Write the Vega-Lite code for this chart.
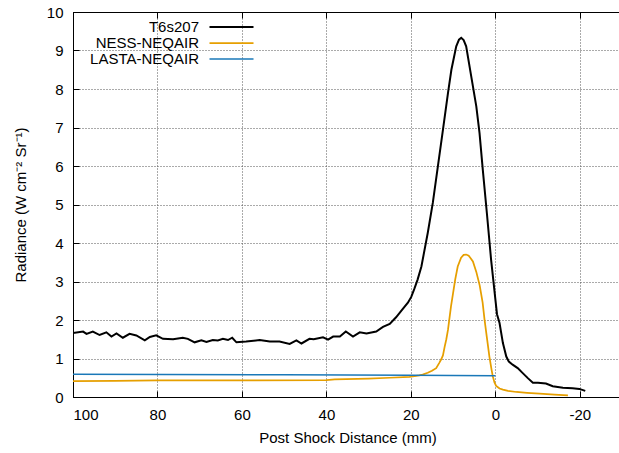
{
  "$schema": "https://vega.github.io/schema/vega-lite/v6.json",
  "width": 549,
  "height": 385,
  "autosize": {"type": "none"},
  "padding": {"left": 73, "top": 12, "right": 0, "bottom": 56},
  "background": "white",
  "config": {
    "font": "Liberation Sans",
    "view": {"stroke": "black", "strokeWidth": 1},
    "axis": {
      "labelFontSize": 15,
      "labelColor": "black",
      "titleFontSize": 15,
      "titleFontWeight": "normal",
      "titleColor": "black",
      "domainColor": "black",
      "tickColor": "black",
      "gridColor": "#555555",
      "gridDash": [1, 2],
      "gridWidth": 1,
      "gridOpacity": 1,
      "tickSize": -6,
      "labelOverlap": false,
      "labelFont": "Liberation Sans",
      "titleFont": "Liberation Sans"
    },
    "legend": {"labelFont": "Liberation Sans"}
  },
  "datasets": {
    "curves": [
      {"series": "T6s207", "d": 100, "r": 1.66},
      {"series": "T6s207", "d": 97.6, "r": 1.70},
      {"series": "T6s207", "d": 96.8, "r": 1.64},
      {"series": "T6s207", "d": 95.3, "r": 1.70},
      {"series": "T6s207", "d": 93.7, "r": 1.61},
      {"series": "T6s207", "d": 92.1, "r": 1.68},
      {"series": "T6s207", "d": 90.9, "r": 1.57},
      {"series": "T6s207", "d": 89.7, "r": 1.65},
      {"series": "T6s207", "d": 88.2, "r": 1.54},
      {"series": "T6s207", "d": 86.6, "r": 1.64},
      {"series": "T6s207", "d": 85.0, "r": 1.60},
      {"series": "T6s207", "d": 83.0, "r": 1.47},
      {"series": "T6s207", "d": 81.8, "r": 1.56},
      {"series": "T6s207", "d": 80.3, "r": 1.60},
      {"series": "T6s207", "d": 78.7, "r": 1.51},
      {"series": "T6s207", "d": 76.3, "r": 1.50},
      {"series": "T6s207", "d": 74.0, "r": 1.54},
      {"series": "T6s207", "d": 72.8, "r": 1.51},
      {"series": "T6s207", "d": 71.2, "r": 1.42},
      {"series": "T6s207", "d": 69.6, "r": 1.47},
      {"series": "T6s207", "d": 68.4, "r": 1.43},
      {"series": "T6s207", "d": 66.9, "r": 1.48},
      {"series": "T6s207", "d": 65.7, "r": 1.47},
      {"series": "T6s207", "d": 64.5, "r": 1.51},
      {"series": "T6s207", "d": 63.3, "r": 1.48},
      {"series": "T6s207", "d": 62.3, "r": 1.54},
      {"series": "T6s207", "d": 61.3, "r": 1.42},
      {"series": "T6s207", "d": 59.0, "r": 1.44},
      {"series": "T6s207", "d": 55.8, "r": 1.48},
      {"series": "T6s207", "d": 53.4, "r": 1.44},
      {"series": "T6s207", "d": 51.1, "r": 1.44},
      {"series": "T6s207", "d": 48.7, "r": 1.38},
      {"series": "T6s207", "d": 47.1, "r": 1.47},
      {"series": "T6s207", "d": 45.9, "r": 1.39},
      {"series": "T6s207", "d": 44.0, "r": 1.51},
      {"series": "T6s207", "d": 43.0, "r": 1.50},
      {"series": "T6s207", "d": 40.8, "r": 1.55},
      {"series": "T6s207", "d": 39.6, "r": 1.49},
      {"series": "T6s207", "d": 38.4, "r": 1.57},
      {"series": "T6s207", "d": 36.8, "r": 1.57},
      {"series": "T6s207", "d": 35.4, "r": 1.70},
      {"series": "T6s207", "d": 33.7, "r": 1.57},
      {"series": "T6s207", "d": 32.1, "r": 1.68},
      {"series": "T6s207", "d": 30.5, "r": 1.65},
      {"series": "T6s207", "d": 28.2, "r": 1.70},
      {"series": "T6s207", "d": 26.6, "r": 1.82},
      {"series": "T6s207", "d": 25.0, "r": 1.90},
      {"series": "T6s207", "d": 23.5, "r": 2.07},
      {"series": "T6s207", "d": 21.9, "r": 2.29},
      {"series": "T6s207", "d": 20.7, "r": 2.45},
      {"series": "T6s207", "d": 19.9, "r": 2.60},
      {"series": "T6s207", "d": 19.2, "r": 2.80},
      {"series": "T6s207", "d": 18.4, "r": 3.05},
      {"series": "T6s207", "d": 17.5, "r": 3.39},
      {"series": "T6s207", "d": 16.0, "r": 4.26},
      {"series": "T6s207", "d": 14.8, "r": 5.04},
      {"series": "T6s207", "d": 13.6, "r": 5.99},
      {"series": "T6s207", "d": 12.4, "r": 6.94},
      {"series": "T6s207", "d": 11.2, "r": 7.90},
      {"series": "T6s207", "d": 10.4, "r": 8.50},
      {"series": "T6s207", "d": 9.25, "r": 9.11},
      {"series": "T6s207", "d": 8.6, "r": 9.28},
      {"series": "T6s207", "d": 8.07, "r": 9.33},
      {"series": "T6s207", "d": 7.5, "r": 9.27},
      {"series": "T6s207", "d": 6.9, "r": 9.11},
      {"series": "T6s207", "d": 5.7, "r": 8.33},
      {"series": "T6s207", "d": 4.5, "r": 7.55},
      {"series": "T6s207", "d": 3.74, "r": 6.86},
      {"series": "T6s207", "d": 2.96, "r": 5.90},
      {"series": "T6s207", "d": 2.0, "r": 4.78},
      {"series": "T6s207", "d": 1.0, "r": 3.57},
      {"series": "T6s207", "d": -0.1, "r": 2.45},
      {"series": "T6s207", "d": -0.4, "r": 2.15},
      {"series": "T6s207", "d": -1.0, "r": 1.92},
      {"series": "T6s207", "d": -1.8, "r": 1.40},
      {"series": "T6s207", "d": -2.6, "r": 1.05},
      {"series": "T6s207", "d": -3.2, "r": 0.92},
      {"series": "T6s207", "d": -4.1, "r": 0.84},
      {"series": "T6s207", "d": -5.3, "r": 0.75},
      {"series": "T6s207", "d": -6.5, "r": 0.62},
      {"series": "T6s207", "d": -7.7, "r": 0.49},
      {"series": "T6s207", "d": -8.9, "r": 0.37},
      {"series": "T6s207", "d": -10.1, "r": 0.37},
      {"series": "T6s207", "d": -12.0, "r": 0.35},
      {"series": "T6s207", "d": -13.6, "r": 0.28},
      {"series": "T6s207", "d": -16.0, "r": 0.24},
      {"series": "T6s207", "d": -18.3, "r": 0.23},
      {"series": "T6s207", "d": -19.9, "r": 0.21},
      {"series": "T6s207", "d": -21.3, "r": 0.16},
      {"series": "NESS-NEQAIR", "d": 100, "r": 0.41},
      {"series": "NESS-NEQAIR", "d": 90, "r": 0.42},
      {"series": "NESS-NEQAIR", "d": 80, "r": 0.43},
      {"series": "NESS-NEQAIR", "d": 60, "r": 0.43},
      {"series": "NESS-NEQAIR", "d": 40, "r": 0.44},
      {"series": "NESS-NEQAIR", "d": 38, "r": 0.46},
      {"series": "NESS-NEQAIR", "d": 30, "r": 0.48},
      {"series": "NESS-NEQAIR", "d": 25, "r": 0.50},
      {"series": "NESS-NEQAIR", "d": 20.3, "r": 0.52},
      {"series": "NESS-NEQAIR", "d": 18, "r": 0.56},
      {"series": "NESS-NEQAIR", "d": 17.2, "r": 0.58},
      {"series": "NESS-NEQAIR", "d": 16, "r": 0.63},
      {"series": "NESS-NEQAIR", "d": 15, "r": 0.68},
      {"series": "NESS-NEQAIR", "d": 14, "r": 0.75},
      {"series": "NESS-NEQAIR", "d": 13.3, "r": 0.88},
      {"series": "NESS-NEQAIR", "d": 12.8, "r": 0.98},
      {"series": "NESS-NEQAIR", "d": 12.4, "r": 1.08},
      {"series": "NESS-NEQAIR", "d": 12.0, "r": 1.30},
      {"series": "NESS-NEQAIR", "d": 11.6, "r": 1.50},
      {"series": "NESS-NEQAIR", "d": 11.2, "r": 1.75},
      {"series": "NESS-NEQAIR", "d": 10.5, "r": 2.35},
      {"series": "NESS-NEQAIR", "d": 10.0, "r": 2.70},
      {"series": "NESS-NEQAIR", "d": 9.5, "r": 3.05},
      {"series": "NESS-NEQAIR", "d": 8.9, "r": 3.39},
      {"series": "NESS-NEQAIR", "d": 8.1, "r": 3.62},
      {"series": "NESS-NEQAIR", "d": 7.5, "r": 3.69},
      {"series": "NESS-NEQAIR", "d": 6.9, "r": 3.70},
      {"series": "NESS-NEQAIR", "d": 6.3, "r": 3.67},
      {"series": "NESS-NEQAIR", "d": 5.8, "r": 3.60},
      {"series": "NESS-NEQAIR", "d": 5.3, "r": 3.52},
      {"series": "NESS-NEQAIR", "d": 4.5, "r": 3.25},
      {"series": "NESS-NEQAIR", "d": 3.7, "r": 2.90},
      {"series": "NESS-NEQAIR", "d": 3.0, "r": 2.45},
      {"series": "NESS-NEQAIR", "d": 2.55, "r": 2.01},
      {"series": "NESS-NEQAIR", "d": 2.0, "r": 1.55},
      {"series": "NESS-NEQAIR", "d": 1.4, "r": 1.05},
      {"series": "NESS-NEQAIR", "d": 0.9, "r": 0.72},
      {"series": "NESS-NEQAIR", "d": 0.6, "r": 0.54},
      {"series": "NESS-NEQAIR", "d": 0.2, "r": 0.38},
      {"series": "NESS-NEQAIR", "d": -0.2, "r": 0.29},
      {"series": "NESS-NEQAIR", "d": -1.0, "r": 0.22},
      {"series": "NESS-NEQAIR", "d": -1.8, "r": 0.19},
      {"series": "NESS-NEQAIR", "d": -3.0, "r": 0.16},
      {"series": "NESS-NEQAIR", "d": -5.0, "r": 0.13},
      {"series": "NESS-NEQAIR", "d": -7.5, "r": 0.11},
      {"series": "NESS-NEQAIR", "d": -10.5, "r": 0.085},
      {"series": "NESS-NEQAIR", "d": -14.0, "r": 0.06},
      {"series": "NESS-NEQAIR", "d": -17.2, "r": 0.04},
      {"series": "LASTA-NEQAIR", "d": 100, "r": 0.59},
      {"series": "LASTA-NEQAIR", "d": 50, "r": 0.575},
      {"series": "LASTA-NEQAIR", "d": 20, "r": 0.565},
      {"series": "LASTA-NEQAIR", "d": 0, "r": 0.555}
    ]
  },
  "data": {"name": "curves"},
  "layer": [
    {
      "mark": {"type": "line", "clip": true},
      "encoding": {
        "x": {
          "field": "d",
          "type": "quantitative",
          "scale": {"domain": [100, -30], "nice": false, "zero": false},
          "axis": {
            "orient": "bottom",
            "values": [100, 80, 60, 40, 20, 0, -20],
            "labelExpr": "toString(datum.value)",
            "title": "Post Shock Distance (mm)",
            "labelPadding": 16,
            "titlePadding": 8,
            "grid": true
          }
        },
        "y": {
          "field": "r",
          "type": "quantitative",
          "scale": {"domain": [0, 10], "nice": false},
          "axis": {
            "values": [0, 1, 2, 3, 4, 5, 6, 7, 8, 9, 10],
            "title": "Radiance (W cm⁻² Sr⁻¹)",
            "labelPadding": 16,
            "titlePadding": 18,
            "grid": true
          }
        },
        "color": {
          "field": "series",
          "type": "nominal",
          "scale": {
            "domain": ["T6s207", "NESS-NEQAIR", "LASTA-NEQAIR"],
            "range": ["#000000", "#E69F00", "#1a78b8"]
          },
          "legend": {
            "title": null,
            "orient": "none",
            "legendX": 151,
            "legendY": 7.5,
            "symbolType": "M-4,0H4",
            "symbolSize": 121,
            "symbolStrokeWidth": 1.5,
            "symbolFillColor": "transparent",
            "labelAlign": "right",
            "labelOffset": -40,
            "labelFontSize": 15,
            "labelColor": "black",
            "labelLimit": 300,
            "rowPadding": 0,
            "padding": 0,
            "offset": 0
          }
        },
        "strokeWidth": {
          "field": "series",
          "type": "nominal",
          "scale": {
            "domain": ["T6s207", "NESS-NEQAIR", "LASTA-NEQAIR"],
            "range": [2, 1.5, 1.5]
          },
          "legend": null
        }
      }
    },
    {
      "mark": {"type": "rule", "opacity": 0},
      "encoding": {
        "x": {
          "field": "d",
          "type": "quantitative",
          "axis": {
            "orient": "top",
            "values": [100, 80, 60, 40, 20, 0, -20],
            "labels": false,
            "title": null,
            "grid": false,
            "domain": true,
            "ticks": true,
            "tickSize": -6,
            "domainColor": "black",
            "tickColor": "black"
          }
        }
      }
    }
  ],
  "resolve": {"axis": {"x": "independent"}}
}
